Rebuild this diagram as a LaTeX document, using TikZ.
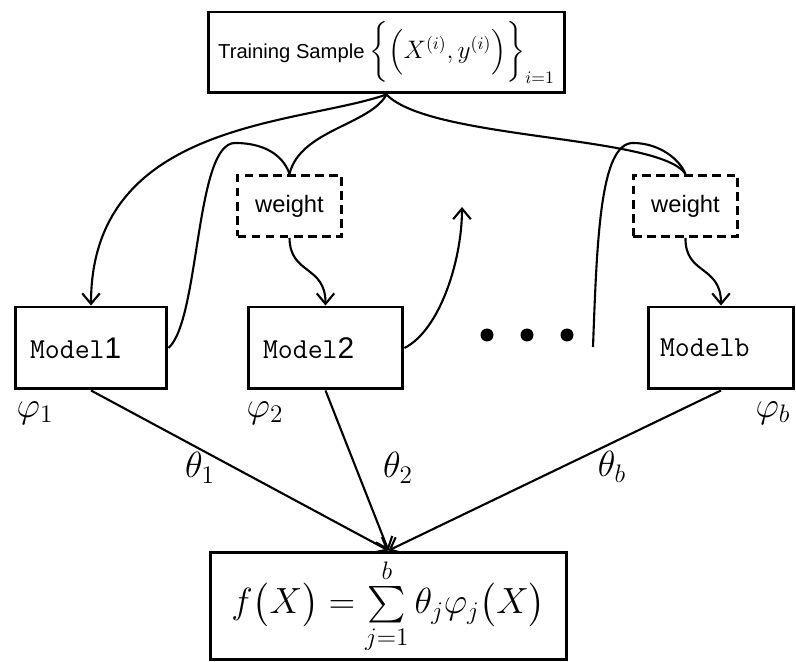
\documentclass[tikz,border=0pt]{standalone}
\usepackage{amsmath}
\usepackage{fontspec}
\newfontfamily\labsans{Liberation Sans}
\usetikzlibrary{arrows.meta}
\begin{document}
\begin{tikzpicture}[x=0.02cm,y=-0.02cm,
  box/.style={draw, line width=1.7pt, rectangle, inner sep=0pt},
  wbox/.style={draw, line width=1.7pt, dash pattern=on 5pt off 3pt, rectangle, inner sep=0pt,
     minimum width=2.08cm, minimum height=1.22cm, font=\labsans\fontsize{13.5}{15}\selectfont},
  mbox/.style={box, minimum height=1.64cm, align=left, inner xsep=0.3cm,
     font=\ttfamily\fontsize{16.5}{18}\selectfont},
  conn/.style={line width=1.2pt},
  arr/.style={conn, -{Straight Barb[length=6pt,width=10pt,line width=1.2pt]}},
  lab/.style={inner sep=0pt, font=\fontsize{21}{24}\selectfont}
]
\useasboundingbox (0,0) rectangle (796,662);

% nodes
\node[box, minimum width=7.14cm, minimum height=1.62cm] (top) at (386.5,52.5)
  {{\labsans\fontsize{11.5}{14}\selectfont Training Sample}\;\fontsize{14.5}{17}\selectfont
   $\biggl\{\Bigl(X^{(i)},y^{(i)}\Bigr)\biggr\}_{i=1}$};
\node[wbox] (w1) at (289.5,206) {weight};
\node[wbox, minimum width=2.1cm] (w2) at (685.5,206) {weight};
\node[mbox, text width=2.44cm] (m1) at (91,348) {Model{\labsans\fontsize{17}{18}\selectfont 1}};
\node[mbox, text width=2.5cm] (m2) at (325.5,348) {Model{\labsans\fontsize{17}{18}\selectfont 2}};
\node[mbox, text width=2.44cm, inner xsep=0.24cm] (mb) at (721,348) {Modelb};
\node[box, minimum width=7.14cm, minimum height=2.16cm, font=\fontsize{21}{25}\selectfont] (bot) at (388.5,606)
  {$f\bigl(X\bigr)=\sum\limits_{j=1}^{b}\theta_j\varphi_j\bigl(X\bigr)$};

% free coordinates
\coordinate (pk1) at (235,143);
\coordinate (pk2) at (633,143);
\coordinate (up) at (462,207);
\coordinate (dl) at (593,347);

% dots
\fill (487,335) circle (0.13cm);
\fill (527,335) circle (0.13cm);
\fill (567,335) circle (0.13cm);

% connectors from the training sample
\draw[arr] (top.south) .. controls (300,125) and (91,120) .. (m1.north);
\draw[conn] (top.south) .. controls (370,125) and (300,130) .. (w1.north);
\draw[conn] (top.south) .. controls (430,140) and (660,135) .. (w2.north);

% returning connectors
\draw[conn] (m1.east) .. controls (200,320) and (195,143) .. (pk1) .. controls (270,143) and (285,160) .. (w1.north);
\draw[arr] (m2.east) .. controls (440,330) and (462,260) .. (up);
\draw[conn] (dl) .. controls (597,240) and (600,143) .. (pk2) .. controls (660,143) and (680,160) .. (w2.north);

% weights to models
\draw[arr] (w1.south) .. controls (290,275) and (325.5,265) .. (m2.north);
\draw[arr] (w2.south) .. controls (685,275) and (721,265) .. (mb.north);

% models to combination
\draw[arr] (m1.south) -- (bot.north);
\draw[arr] (m2.south) -- (bot.north);
\draw[arr] (mb.south) -- (bot.north);

% labels
\node[lab] (lp1) at (35,413) {$\varphi_1$};
\node[lab] (lp2) at (265,413) {$\varphi_2$};
\node[lab] (lpb) at (773,413) {$\varphi_b$};
\node[lab] (lt1) at (200,468) {$\theta_1$};
\node[lab] (lt2) at (398,468) {$\theta_2$};
\node[lab] (ltb) at (612,467) {$\theta_b$};
\end{tikzpicture}
\end{document}
